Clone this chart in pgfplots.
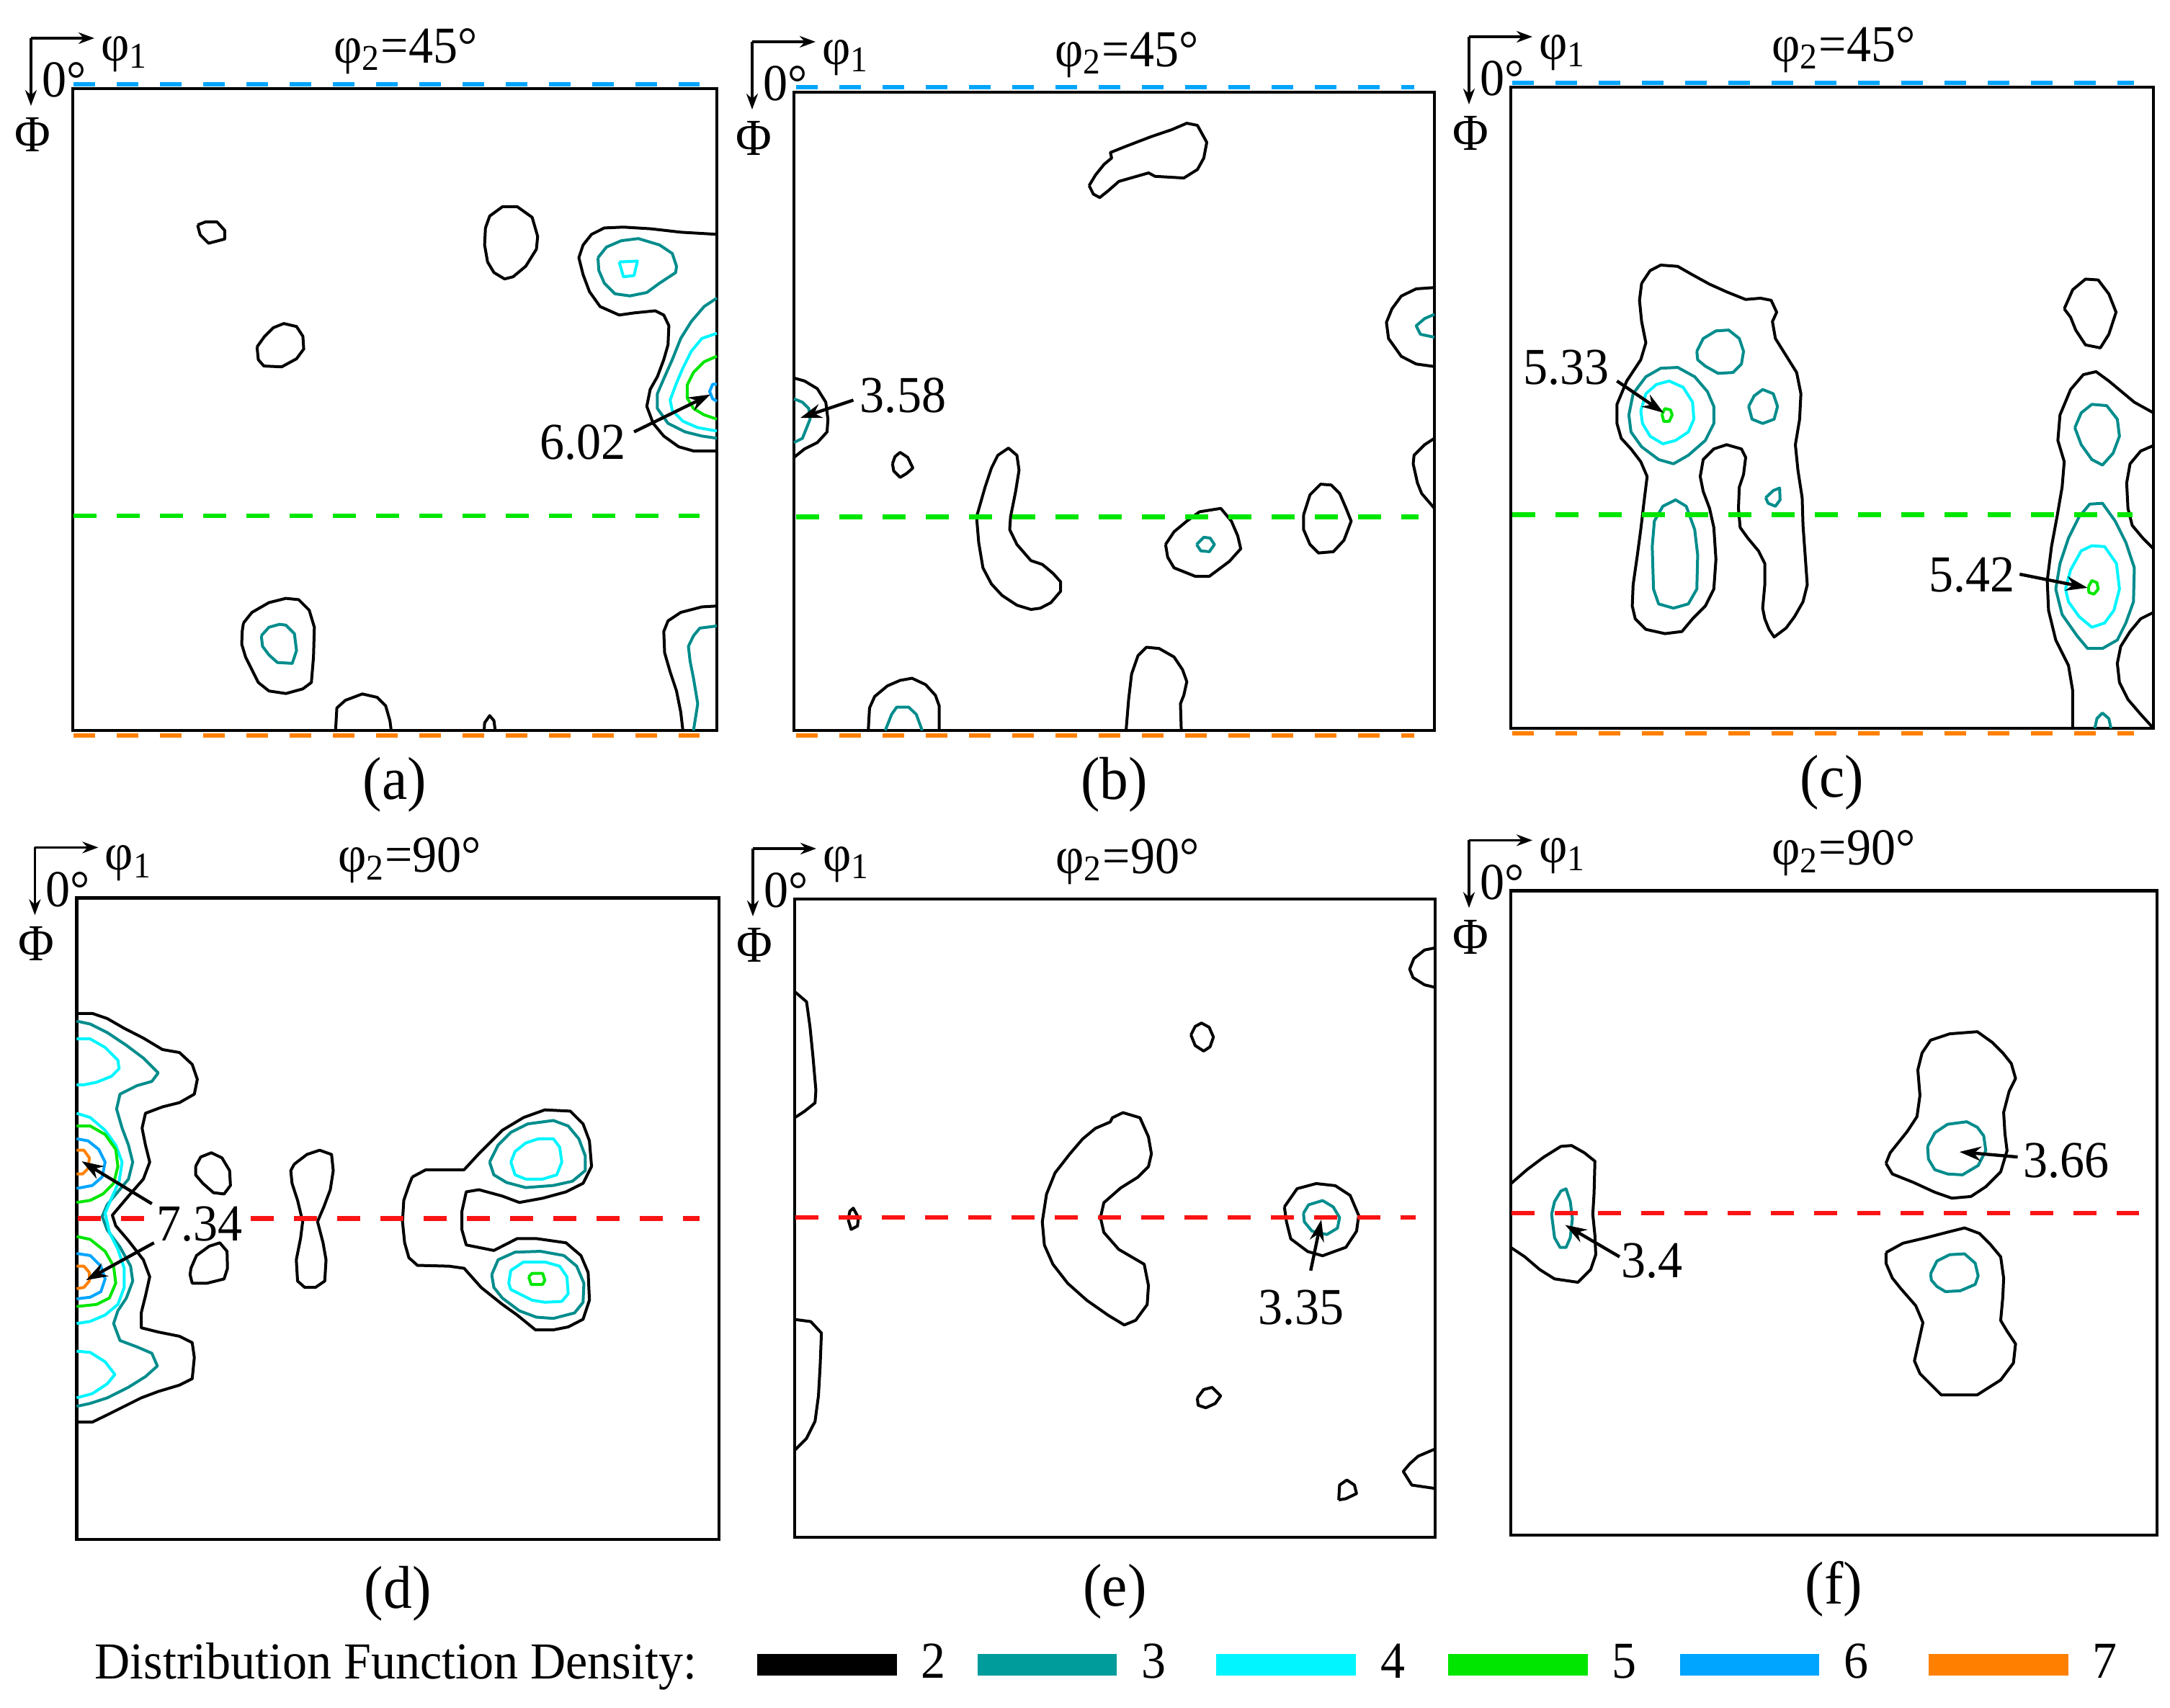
\documentclass[border=0pt]{standalone}
\usepackage{fontspec}
\setmainfont{Liberation Serif}[FakeStretch=0.945]
\usepackage{pgfplots}
\pgfplotsset{compat=1.18}
\usetikzlibrary{arrows.meta}

\definecolor{c3}{RGB}{0,140,140}
\definecolor{c3l}{RGB}{0,155,155}
\definecolor{c4}{RGB}{0,245,255}
\definecolor{c5}{RGB}{0,230,0}
\definecolor{c6}{RGB}{0,165,255}
\definecolor{c7}{RGB}{255,128,0}
\definecolor{dred}{RGB}{250,20,20}

\pgfplotsset{
  odf/.style={scale only axis, anchor=north west, axis lines=box,
    xtick=\empty, ytick=\empty, y dir=reverse, clip=false, enlargelimits=false,
    axis line style={line width=1.1pt},
    every axis plot/.append style={line width=1pt, line join=round, mark=none}},
}
\tikzset{
  edge/.style={line width=1.4pt, dash pattern=on 7.5pt off 7.5pt},
  mid/.style={line width=1.6pt, dash pattern=on 8pt off 7pt},
  annot/.style={line width=1.1pt, -{Stealth[length=7.5pt,width=5pt]}},
}

% corner sketch, phi2 title and panel letter for one axis
\newcommand{\decor}[3]{%
  \draw[line width=0.9pt,-{Stealth[length=5.5pt,width=4pt]}] ([shift={(-14.5pt,17.5pt)}]#1.north west) -- ++(22pt,0);
  \draw[line width=0.9pt,-{Stealth[length=5.5pt,width=4pt]}] ([shift={(-14.5pt,17.5pt)}]#1.north west) -- ++(0,-23.5pt);
  \node at ([shift={(18pt,12pt)}]#1.north west) {φ\textsubscript{1}};
  \node at ([shift={(-3pt,3pt)}]#1.north west) {0°};
  \node at ([shift={(-14pt,-16pt)}]#1.north west) {Φ};
  \node at ([shift={(115.5pt,13pt)}]#1.north west) {φ\textsubscript{2}=#2°};
  \node[font=\fontsize{21}{25}\selectfont] at ([yshift=-18.75pt]#1.south) {(#3)};
}

\begin{document}
\fontsize{18}{21}\selectfont
\begin{tikzpicture}
\useasboundingbox (0,0) rectangle (753pt,-592.5pt);

% ---------------- (a)
\begin{axis}[odf, name=pa, at={(25.25pt,-30.75pt)}, width=223.5pt, height=222.75pt,
  xmin=18, xmax=1535, ymin=22, ymax=1533]
\addplot[black] coordinates {(312,343) (330,336) (358,336) (376,356) (376,376) (338,386) (318,366) (312,343)};
\addplot[black] coordinates {(990,350) (1000,322) (1030,300) (1065,300) (1100,325) (1113,370) (1110,400) (1085,440) (1055,465) (1035,470) (1010,455) (995,430) (988,390) (990,350)};
\addplot[black] coordinates {(452,630) (470,605) (490,585) (515,575) (545,582) (560,605) (562,635) (545,658) (510,677) (468,675) (455,660) (452,630)};
\addplot[black] coordinates {(1535,365) (1450,360) (1380,352) (1315,348) (1270,350) (1240,365) (1220,390) (1210,420) (1220,460) (1235,500) (1260,535) (1305,555) (1340,550) (1390,545) (1410,555) (1422,580) (1420,625) (1410,660) (1395,700) (1378,730) (1370,770) (1385,810) (1410,840) (1445,865) (1480,875) (1535,875)};
\addplot[c3] coordinates {(1255,420) (1275,395) (1310,380) (1350,375) (1400,390) (1430,410) (1440,440) (1438,455) (1400,480) (1370,502) (1330,510) (1295,505) (1270,480) (1257,450) (1255,420)};
\addplot[c4] coordinates {(1305,430) (1348,428) (1340,462) (1315,465) (1305,430)};
\addplot[c3] coordinates {(1535,515) (1505,535) (1475,570) (1450,610) (1430,660) (1410,705) (1395,740) (1395,775) (1420,810) (1460,830) (1500,840) (1535,845)};
\addplot[c4] coordinates {(1535,598) (1500,610) (1475,640) (1455,680) (1440,715) (1425,755) (1430,780) (1455,805) (1490,820) (1535,828)};
\addplot[c5] coordinates {(1535,652) (1505,665) (1480,690) (1465,720) (1465,750) (1480,775) (1505,790) (1535,800)};
\addplot[c6] coordinates {(1535,718) (1525,718) (1518,735) (1525,752) (1535,758)};
\addplot[black] coordinates {(420,1280) (440,1255) (480,1232) (520,1222) (550,1225) (575,1250) (587,1290) (585,1360) (580,1420) (560,1435) (520,1446) (480,1440) (455,1420) (440,1390) (425,1360) (416,1330) (417,1300) (420,1280)};
\addplot[c3] coordinates {(462,1310) (480,1290) (505,1283) (520,1285) (540,1305) (545,1345) (535,1375) (500,1373) (480,1355) (465,1335) (462,1310)};
\addplot[black] coordinates {(637,1533) (640,1480) (660,1462) (700,1447) (735,1455) (755,1475) (765,1510) (768,1533)};
\addplot[black] coordinates {(987,1533) (988,1515) (1000,1498) (1010,1510) (1013,1533)};
\addplot[black] coordinates {(1455,1533) (1450,1490) (1440,1440) (1425,1395) (1412,1350) (1410,1300) (1420,1275) (1450,1255) (1500,1242) (1535,1240)};
\addplot[c3] coordinates {(1480,1533) (1490,1470) (1480,1410) (1472,1370) (1468,1335) (1480,1310) (1495,1292) (1535,1287)};
\addplot[c6, edge] coordinates {(20,12) (1495,12)};
\addplot[c7, edge] coordinates {(20,1545) (1495,1545)};
\addplot[c5, mid] coordinates {(20,1028) (1495,1028)};
\draw[annot] (axis cs:1340,830) -- (axis cs:1520,742);
\node at (axis cs:1220,855) {6.02};
\end{axis}
\decor{pa}{45}{a}

% ---------------- (b)
\begin{axis}[odf, name=pb, at={(275.5pt,-32pt)}, width=222.25pt, height=221.5pt,
  xmin=20, xmax=1528, ymin=30, ymax=1533]
\addplot[black] coordinates {(715,250) (730,225) (750,200) (768,185) (765,172) (800,158) (860,135) (910,118) (945,103) (970,108) (992,148) (985,185) (970,212) (938,232) (870,228) (855,220) (785,240) (760,262) (740,278) (725,270) (715,250)};
\addplot[black] coordinates {(1528,490) (1485,493) (1450,510) (1428,540) (1415,572) (1420,610) (1450,652) (1485,670) (1528,676)};
\addplot[c3] coordinates {(1528,553) (1505,563) (1485,580) (1495,600) (1528,607)};
\addplot[black] coordinates {(20,703) (45,710) (75,728) (95,760) (100,800) (98,830) (75,855) (45,870) (20,890)};
\addplot[c3] coordinates {(20,752) (40,760) (55,775) (58,800) (50,820) (40,845) (20,855)};
\addplot[black] coordinates {(252,905) (258,888) (270,878) (288,890) (300,915) (285,928) (270,937) (255,922) (252,905)};
\addplot[black] coordinates {(450,1030) (470,960) (485,915) (500,885) (525,868) (545,885) (550,920) (542,970) (530,1030) (528,1060) (545,1095) (578,1133) (605,1142) (630,1163) (648,1183) (648,1205) (625,1232) (600,1245) (578,1248) (545,1238) (510,1215) (485,1188) (465,1150) (455,1090) (450,1030)};
\addplot[black] coordinates {(895,1095) (915,1065) (945,1040) (975,1018) (1025,1010) (1050,1040) (1065,1075) (1072,1105) (1045,1135) (998,1170) (965,1170) (915,1150) (900,1125) (895,1095)};
\addplot[c3] coordinates {(968,1095) (985,1078) (1000,1080) (1010,1095) (998,1112) (978,1110) (968,1095)};
\addplot[black] coordinates {(1220,1025) (1235,978) (1260,953) (1285,955) (1305,975) (1320,1010) (1332,1040) (1315,1085) (1290,1112) (1255,1115) (1235,1095) (1220,1060) (1220,1025)};
\addplot[black] coordinates {(1528,845) (1505,860) (1480,885) (1478,905) (1488,950) (1498,975) (1528,1010)};
\addplot[black] coordinates {(195,1533) (198,1480) (210,1453) (240,1428) (270,1415) (298,1410) (330,1425) (353,1450) (362,1475) (362,1533)};
\addplot[c3] coordinates {(235,1533) (250,1495) (262,1478) (290,1478) (308,1495) (322,1533)};
\addplot[black] coordinates {(802,1533) (808,1460) (815,1400) (830,1357) (850,1337) (880,1340) (915,1360) (935,1390) (945,1418) (938,1450) (930,1470) (932,1533)};
\addplot[c6, edge] coordinates {(25,18) (1480,18)};
\addplot[c7, edge] coordinates {(25,1545) (1480,1545)};
\addplot[c5, mid] coordinates {(25,1030) (1490,1030)};
\draw[annot] (axis cs:160,755) -- (axis cs:35,797);
\node at (axis cs:277,745) {3.58};
\end{axis}
\decor{pb}{45}{b}

% ---------------- (c)
\begin{axis}[odf, name=pc, at={(524.25pt,-30.25pt)}, width=223pt, height=222.5pt,
  xmin=12, xmax=1525, ymin=18, ymax=1528]
\addplot[black] coordinates {(320,480) (340,450) (365,437) (405,440) (440,460) (480,482) (520,500) (565,518) (600,515) (625,520) (638,548) (628,570) (635,610) (660,650) (685,690) (695,740) (692,800) (682,860) (688,920) (698,985) (700,1050) (705,1120) (710,1190) (700,1230) (680,1265) (660,1292) (632,1313) (620,1295) (610,1270) (605,1245) (610,1190) (610,1140) (595,1110) (570,1080) (552,1055) (548,1010) (550,960) (560,930) (565,890) (555,870) (520,860) (490,870) (465,895) (458,935) (465,970) (480,1010) (490,1055) (495,1130) (490,1200) (470,1240) (440,1270) (415,1300) (375,1305) (330,1295) (305,1270) (298,1240) (300,1190) (310,1120) (318,1060) (325,1000) (333,935) (318,900) (295,870) (272,845) (262,810) (262,765) (285,710) (318,660) (330,620) (320,570) (315,520) (320,480)};
\addplot[c3] coordinates {(290,790) (300,740) (330,700) (365,680) (405,678) (445,700) (475,735) (490,770) (490,810) (470,850) (430,885) (395,905) (360,895) (320,865) (295,830) (290,790)};
\addplot[c4] coordinates {(318,780) (330,740) (355,718) (385,710) (418,725) (440,760) (443,800) (430,830) (400,850) (370,858) (340,840) (322,810) (318,780)};
\addplot[c5] coordinates {(368,788) (375,775) (388,778) (392,790) (385,805) (372,805) (368,788)};
\addplot[c3] coordinates {(450,640) (465,610) (495,592) (525,590) (550,610) (560,640) (555,670) (535,690) (500,692) (470,675) (452,660) (450,640)};
\addplot[c3] coordinates {(572,770) (585,745) (605,730) (630,740) (640,770) (632,800) (605,810) (580,800) (572,770)};
\addplot[c3] coordinates {(612,985) (630,968) (645,962) (646,990) (635,1005) (618,998) (612,985)};
\addplot[c3] coordinates {(345,1100) (350,1040) (370,1005) (400,990) (425,1005) (445,1060) (452,1120) (450,1200) (430,1235) (395,1245) (360,1235) (348,1200) (345,1100)};
\addplot[black] coordinates {(1315,540) (1335,495) (1365,470) (1395,472) (1420,505) (1437,548) (1420,600) (1400,632) (1365,625) (1342,590) (1330,560) (1315,540)};
\addplot[black] coordinates {(1335,1528) (1335,1440) (1325,1380) (1295,1320) (1278,1250) (1275,1180) (1285,1100) (1298,1030) (1310,960) (1315,900) (1300,850) (1305,790) (1330,730) (1360,695) (1390,688) (1420,710) (1450,735) (1480,760) (1525,785)};
\addplot[black] coordinates {(1525,862) (1495,875) (1470,905) (1462,950) (1465,1010) (1475,1050) (1500,1080) (1525,1105)};
\addplot[black] coordinates {(1525,1255) (1495,1270) (1470,1300) (1448,1335) (1440,1375) (1445,1420) (1465,1460) (1495,1495) (1525,1528)};
\addplot[c3] coordinates {(1340,820) (1355,785) (1380,765) (1415,768) (1440,800) (1445,840) (1430,880) (1405,908) (1380,895) (1355,860) (1340,820)};
\addplot[c3] coordinates {(1295,1200) (1305,1140) (1325,1080) (1350,1030) (1375,1000) (1405,998) (1435,1040) (1460,1090) (1480,1150) (1478,1230) (1460,1280) (1440,1320) (1405,1340) (1370,1340) (1345,1310) (1310,1260) (1295,1200)};
\addplot[c4] coordinates {(1318,1200) (1330,1155) (1355,1110) (1380,1098) (1410,1100) (1438,1140) (1445,1200) (1432,1250) (1410,1280) (1380,1290) (1350,1265) (1325,1230) (1318,1200)};
\addplot[c5] coordinates {(1372,1195) (1380,1180) (1392,1185) (1395,1200) (1385,1212) (1373,1208) (1372,1195)};
\addplot[c3] coordinates {(1387,1528) (1392,1505) (1405,1492) (1420,1505) (1425,1528)};
\addplot[c6, edge] coordinates {(15,8) (1480,8)};
\addplot[c7, edge] coordinates {(15,1540) (1480,1540)};
\addplot[c5, mid] coordinates {(15,1025) (1475,1025)};
\draw[annot] (axis cs:262,710) -- (axis cs:372,785);
\node at (axis cs:143,678) {5.33};
\draw[annot] (axis cs:1210,1165) -- (axis cs:1370,1197);
\node at (axis cs:1098,1167) {5.42};
\end{axis}
\decor{pc}{45}{c}

% ---------------- (d)
\begin{axis}[odf, name=pd, at={(26.6pt,-311.6pt)}, width=222.9pt, height=222.6pt,
  xmin=28, xmax=1540, ymin=28, ymax=1538]
\addplot[black] coordinates {(28,300) (65,300) (100,312) (140,335) (185,358) (230,385) (270,392) (300,420) (312,455) (305,490) (270,510) (230,520) (190,535) (182,570) (190,610) (200,650) (185,690) (150,730) (112,775) (120,800) (150,835) (185,880) (200,920) (190,965) (180,1005) (180,1040) (220,1050) (270,1060) (300,1075) (305,1110) (300,1160) (270,1175) (220,1190) (180,1205) (140,1225) (100,1245) (65,1262) (28,1262)};
\addplot[c3] coordinates {(28,318) (60,325) (100,345) (145,375) (185,405) (220,440) (205,460) (170,470) (130,490) (122,525) (135,570) (150,610) (160,650) (150,690) (125,720) (100,750) (88,778) (100,810) (130,850) (155,895) (160,930) (145,970) (125,1000) (115,1030) (130,1070) (170,1085) (205,1100) (218,1130) (190,1155) (150,1180) (100,1205) (60,1218) (28,1225)};
\addplot[c4] coordinates {(28,360) (60,360) (95,380) (125,410) (128,430) (110,448) (75,462) (45,468) (28,468)};
\addplot[c4] coordinates {(28,535) (60,545) (95,575) (120,610) (135,650) (128,695) (110,735) (95,770) (105,815) (125,855) (140,900) (140,945) (125,985) (95,1010) (60,1025) (28,1030)};
\addplot[c4] coordinates {(28,1095) (60,1098) (95,1120) (118,1150) (100,1172) (65,1195) (28,1205)};
\addplot[c5] coordinates {(28,565) (60,565) (95,585) (120,620) (125,660) (115,700) (90,725) (60,740) (28,745)};
\addplot[c5] coordinates {(28,825) (60,832) (95,860) (115,895) (120,935) (105,970) (75,985) (28,990)};
\addplot[c6] coordinates {(28,595) (55,600) (80,620) (95,650) (88,685) (65,705) (28,712)};
\addplot[c6] coordinates {(28,865) (60,870) (85,895) (95,925) (85,955) (60,968) (28,972)};
\addplot[c7] coordinates {(28,622) (45,622) (58,640) (55,665) (42,678) (28,678)};
\addplot[c7] coordinates {(28,895) (45,895) (58,910) (58,930) (45,945) (28,948)};
\addplot[black] coordinates {(308,660) (320,638) (345,628) (370,640) (388,670) (390,705) (375,725) (350,722) (325,700) (308,680) (308,660)};
\addplot[black] coordinates {(297,900) (310,870) (340,848) (365,840) (382,860) (383,900) (375,925) (335,935) (300,935) (295,915) (297,900)};
\addplot[black] coordinates {(540,655) (570,632) (600,622) (628,632) (632,670) (625,715) (610,755) (595,790) (608,840) (615,880) (612,930) (590,945) (565,945) (548,930) (545,880) (555,830) (560,790) (548,740) (535,700) (532,670) (540,655)};
\addplot[black] coordinates {(818,685) (850,668) (940,668) (975,630) (1030,575) (1080,545) (1130,527) (1190,530) (1220,560) (1235,600) (1240,660) (1220,700) (1180,720) (1125,735) (1070,745) (1030,730) (975,715) (945,720) (935,765) (935,810) (945,845) (980,852) (1010,858) (1065,830) (1110,830) (1180,840) (1215,870) (1232,910) (1235,975) (1220,1020) (1185,1038) (1150,1045) (1108,1045) (1065,1010) (1030,985) (980,945) (940,900) (905,895) (830,893) (810,875) (800,840) (795,790) (798,740) (810,705) (818,685)};
\addplot[c3] coordinates {(1000,650) (1020,610) (1050,580) (1090,560) (1150,552) (1185,565) (1210,595) (1225,635) (1225,670) (1195,695) (1150,705) (1085,710) (1040,698) (1010,680) (1000,650)};
\addplot[c4] coordinates {(1050,650) (1060,625) (1085,605) (1115,595) (1150,595) (1165,615) (1170,650) (1158,680) (1125,690) (1085,690) (1060,680) (1050,650)};
\addplot[c3] coordinates {(1005,915) (1020,880) (1060,862) (1120,860) (1175,870) (1205,895) (1222,935) (1220,980) (1200,1005) (1150,1018) (1110,1015) (1070,1000) (1030,970) (1010,945) (1005,915)};
\addplot[c4] coordinates {(1045,935) (1050,905) (1080,885) (1130,885) (1165,895) (1182,920) (1185,960) (1170,978) (1130,980) (1100,975) (1070,960) (1050,950) (1045,935)};
\addplot[c5] coordinates {(1092,920) (1100,912) (1125,912) (1130,928) (1125,938) (1098,938) (1092,920)};
\addplot[dred, mid] coordinates {(30,783) (1495,783)};
\draw[annot] (axis cs:205,748) -- (axis cs:40,648);
\draw[annot] (axis cs:210,840) -- (axis cs:50,928);
\node[fill=white, inner sep=0pt] at (axis cs:318,795) {7.34};
\end{axis}
\decor{pd}{90}{d}

% ---------------- (e)
\begin{axis}[odf, name=pe, at={(275.75pt,-312pt)}, width=222.25pt, height=221.5pt,
  xmin=22, xmax=1530, ymin=30, ymax=1533]
\addplot[black] coordinates {(22,248) (50,272) (58,330) (65,400) (72,480) (70,510) (45,530) (22,545)};
\addplot[black] coordinates {(22,1020) (60,1025) (85,1052) (82,1130) (78,1200) (70,1260) (50,1300) (22,1328)};
\addplot[black] coordinates {(1530,145) (1505,150) (1480,170) (1470,195) (1478,215) (1505,232) (1530,238)};
\addplot[black] coordinates {(955,350) (965,330) (980,322) (998,332) (1008,355) (1000,378) (985,388) (965,375) (955,350)};
\addplot[black] coordinates {(148,785) (152,765) (160,758) (172,780) (170,800) (155,808) (148,785)};
\addplot[black] coordinates {(605,790) (615,725) (635,675) (670,630) (700,595) (730,570) (765,555) (770,545) (795,533) (835,545) (855,590) (862,630) (855,660) (830,685) (790,710) (750,745) (742,780) (750,815) (785,855) (845,890) (855,940) (852,985) (825,1022) (798,1033) (760,1010) (710,975) (665,935) (630,890) (610,845) (605,790)};
\addplot[black] coordinates {(1175,755) (1205,712) (1250,700) (1295,705) (1330,728) (1350,775) (1345,812) (1320,850) (1265,870) (1230,860) (1190,830) (1180,790) (1175,755)};
\addplot[c3] coordinates {(1220,770) (1232,750) (1265,740) (1290,755) (1305,780) (1300,805) (1275,820) (1240,812) (1222,790) (1220,770)};
\addplot[black] coordinates {(970,1205) (985,1185) (1005,1180) (1025,1200) (1012,1218) (990,1228) (972,1222) (970,1205)};
\addplot[black] coordinates {(1303,1445) (1305,1410) (1322,1398) (1340,1410) (1345,1430) (1320,1442) (1303,1445)};
\addplot[black] coordinates {(1530,1325) (1490,1342) (1470,1360) (1455,1378) (1475,1410) (1530,1418)};
\addplot[dred, mid] coordinates {(24,780) (1485,780)};
\draw[annot] (axis cs:1237,905) -- (axis cs:1262,785);
\node at (axis cs:1214,992) {3.35};
\end{axis}
\decor{pe}{90}{e}

% ---------------- (f)
\begin{axis}[odf, name=pf, at={(524.25pt,-309.1pt)}, width=224.25pt, height=223.6pt,
  xmin=12, xmax=1533, ymin=28, ymax=1545]
\addplot[black] coordinates {(12,718) (50,685) (90,655) (130,630) (155,628) (185,645) (210,665) (208,740) (205,790) (210,840) (212,885) (200,920) (170,950) (115,942) (80,920) (45,890) (12,868)};
\addplot[c3] coordinates {(108,790) (115,760) (130,735) (142,730) (152,760) (157,800) (152,845) (142,868) (128,868) (115,845) (108,790)};
\addplot[black] coordinates {(895,670) (905,645) (945,595) (968,560) (975,510) (970,450) (980,410) (1000,380) (1045,365) (1110,360) (1145,385) (1170,410) (1190,435) (1200,470) (1185,500) (1172,550) (1175,600) (1180,640) (1165,690) (1130,725) (1095,748) (1050,752) (1010,738) (960,715) (910,695) (895,670)};
\addplot[c3] coordinates {(993,630) (1010,598) (1040,578) (1085,572) (1110,585) (1125,605) (1130,640) (1112,675) (1075,697) (1040,695) (1010,685) (995,660) (993,630)};
\addplot[black] coordinates {(895,880) (935,858) (990,845) (1040,832) (1080,822) (1115,835) (1140,860) (1165,890) (1172,940) (1170,985) (1165,1040) (1180,1065) (1200,1095) (1195,1140) (1165,1180) (1110,1215) (1025,1215) (1000,1190) (975,1165) (962,1135) (972,1090) (982,1045) (965,1005) (930,965) (910,940) (895,905) (895,880)};
\addplot[c3] coordinates {(1000,930) (1015,900) (1045,885) (1080,883) (1105,905) (1112,935) (1105,955) (1070,970) (1035,972) (1015,960) (1002,945) (1000,930)};
\addplot[dred, mid] coordinates {(14,787) (1490,787)};
\draw[annot] (axis cs:268,890) -- (axis cs:140,815);
\node at (axis cs:345,900) {3.4};
\draw[annot] (axis cs:1205,655) -- (axis cs:1068,643);
\node at (axis cs:1320,663) {3.66};
\end{axis}
\decor{pf}{90}{f}

% ---------------- legend
\begin{axis}[hide axis, scale only axis, width=753pt, height=20pt,
  at={(0pt,-577.75pt)}, anchor=west, xmin=0, xmax=1, ymin=0, ymax=1,
  legend columns=-1,
  legend image code/.code={\fill[#1] (0pt,-3.6pt) rectangle (48pt,3.6pt);},
  legend style={at={(0.0435,0.5)}, anchor=west, draw=none, fill=none,
    inner sep=0pt, column sep=0pt, font=\fontsize{18}{21}\selectfont,
    nodes={inner sep=0pt},
    /tikz/column 2/.style={column sep=21pt},
    /tikz/column 3/.style={column sep=8.5pt},
    /tikz/column 4/.style={column sep=11pt},
    /tikz/column 5/.style={column sep=8.5pt},
    /tikz/column 6/.style={column sep=17.5pt},
    /tikz/column 7/.style={column sep=8.5pt},
    /tikz/column 8/.style={column sep=15pt},
    /tikz/column 9/.style={column sep=8.5pt},
    /tikz/column 10/.style={column sep=15pt},
    /tikz/column 11/.style={column sep=8.5pt},
    /tikz/column 12/.style={column sep=21pt},
    /tikz/column 13/.style={column sep=8.5pt}}]
\addlegendimage{empty legend}\addlegendentry{Distribution Function Density:}
\addlegendimage{black}\addlegendentry{2}
\addlegendimage{c3l}\addlegendentry{3}
\addlegendimage{c4}\addlegendentry{4}
\addlegendimage{c5}\addlegendentry{5}
\addlegendimage{c6}\addlegendentry{6}
\addlegendimage{c7}\addlegendentry{7}
\end{axis}
\end{tikzpicture}
\end{document}
